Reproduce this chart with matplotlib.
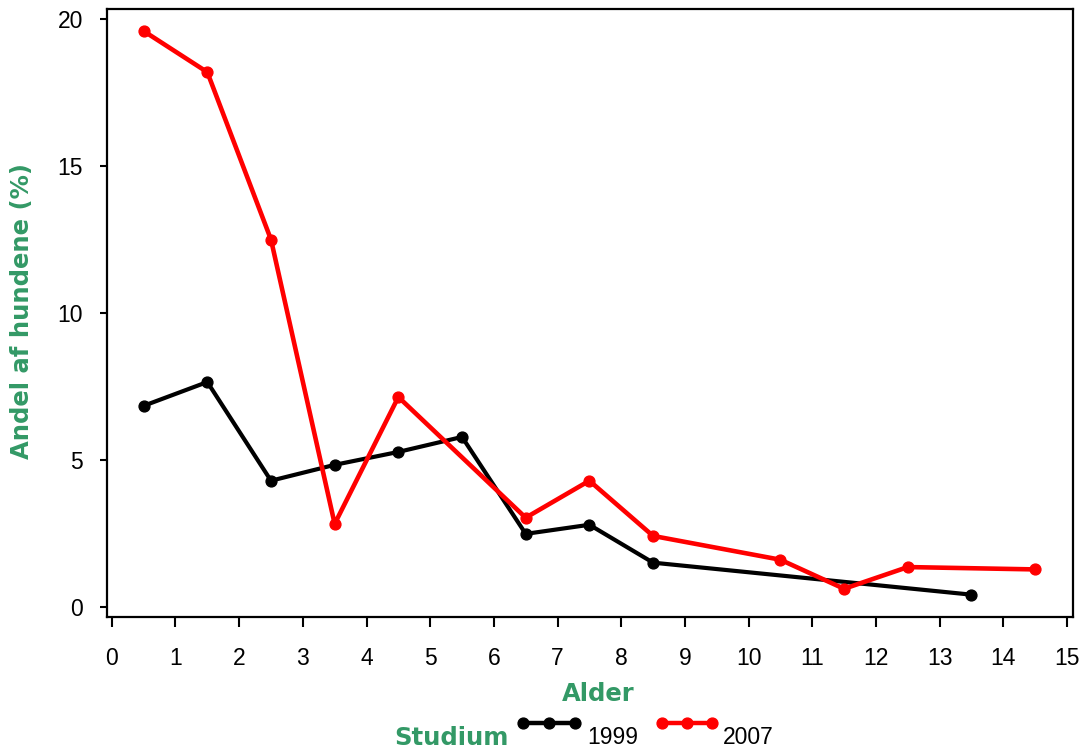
import matplotlib
matplotlib.use("Agg")
import matplotlib.pyplot as plt
from matplotlib.lines import Line2D

# Data
ages_1999 = [0.5, 1.5, 2.5, 3.5, 4.5, 5.5, 6.5, 7.5, 8.5, 13.5]
pct_1999 = [6.84, 7.65, 4.29, 4.83, 5.27, 5.78, 2.48, 2.79, 1.50, 0.41]
ages_2007 = [0.5, 1.5, 2.5, 3.5, 4.5, 6.5, 7.5, 8.5, 10.5, 11.5, 12.5, 14.5]
pct_2007 = [19.6, 18.2, 12.5, 2.82, 7.14, 3.03, 4.29, 2.41, 1.60, 0.61, 1.35, 1.27]
x_ticks = list(range(0, 16))
y_ticks = [0, 5, 10, 15, 20]
series_labels = ["1999", "2007"]
legend_title = "Studium"

green = "#339966"
W, H = 1090, 753
fig = plt.figure(figsize=(W / 100, H / 100), dpi=100)
ax = fig.add_axes([106.7 / W, 1 - 616.7 / H, (1072.7 - 106.7) / W, (616.7 - 9.3) / H])

ax.plot(ages_1999, pct_1999, color="black", lw=3.0, marker="o", ms=7.8, zorder=3)
ax.plot(ages_2007, pct_2007, color="#ff0000", lw=3.3, marker="o", ms=7.8, zorder=4)

ax.set_xlim(-0.08, 15.09)
ax.set_ylim(-0.34, 20.34)
ax.set_xticks(x_ticks)
ax.set_yticks(y_ticks)
for s in ax.spines.values():
    s.set_linewidth(1.6)
ax.tick_params(axis="x", length=7, width=1.5, pad=15, labelsize=16.5)
ax.tick_params(axis="y", length=5, width=1.5, pad=12, labelsize=16.5)
for lab in ax.get_xticklabels() + ax.get_yticklabels():
    lab.set_fontfamily("Liberation Sans")

lab_font = dict(family="DejaVu Sans", weight="bold", size=17.5, color=green)
fig.text(598 / W, 1 - 694 / H, "Alder", ha="center", va="center", **lab_font)
fig.text(22 / W, 1 - 311 / H, "Andel af hundene (%)", ha="center", va="center",
         rotation=90, **lab_font)

# Legend
fig.text(451 / W, 1 - 738 / H, legend_title, ha="center", va="center", **lab_font)
leg_items = [(523, 575, "black", 587, series_labels[0]),
             (662, 712, "#ff0000", 723, series_labels[1])]
for x0, x1, c, tx, lbl in leg_items:
    fig.add_artist(Line2D([x0 / W, (x0 + x1) / 2 / W, x1 / W], [1 - 723 / H] * 3,
                          transform=fig.transFigure, color=c, lw=3.2, marker="o", ms=7.8))
    fig.text(tx / W, 1 - 737 / H, lbl, ha="left", va="center",
             family="Liberation Sans", size=16.5)

fig.savefig("out.png", dpi=100)
